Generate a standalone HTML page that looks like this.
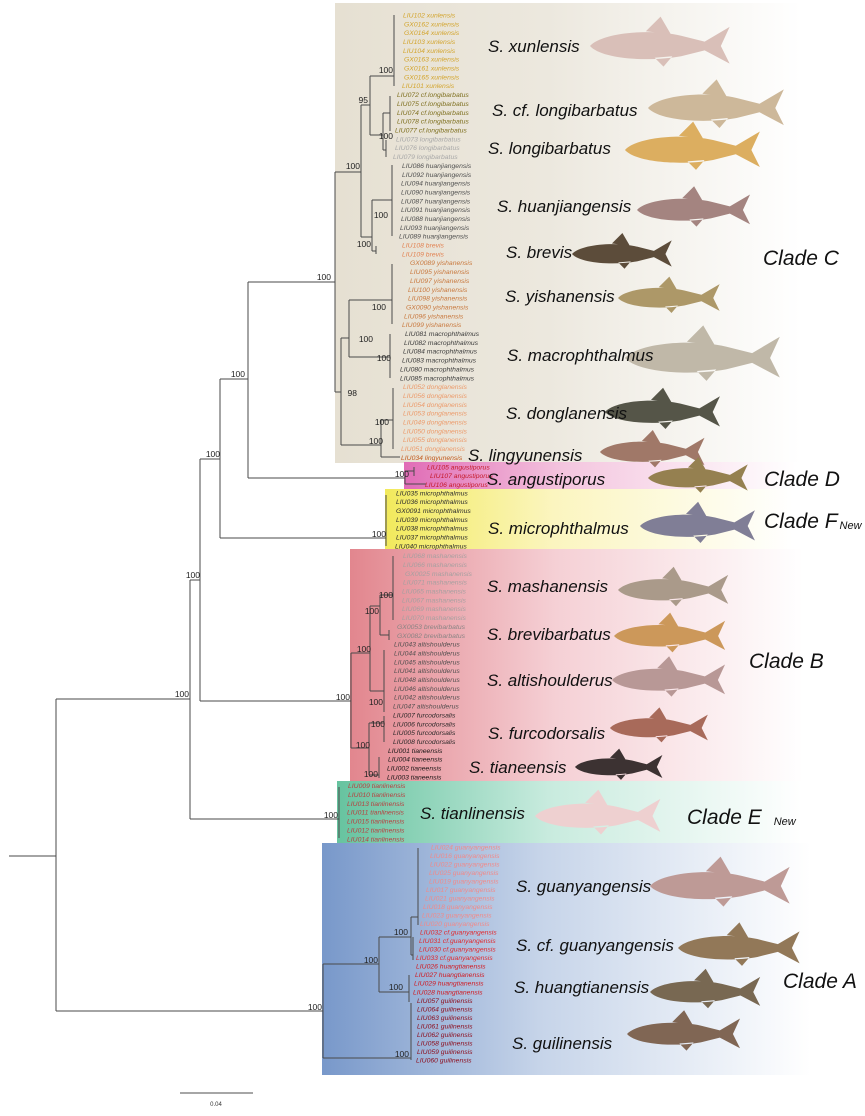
<!DOCTYPE html>
<html><head><meta charset="utf-8"><style>
html,body{margin:0;padding:0;background:#fff}
svg{display:block}
.t{font-family:"Liberation Sans",sans-serif;font-style:italic;font-size:6.8px}
.sp{font-family:"Liberation Sans",sans-serif;font-style:italic;font-size:17px;fill:#111}
.cl{font-family:"Liberation Sans",sans-serif;font-style:italic;font-size:21px;fill:#111}
.bs{font-family:"Liberation Sans",sans-serif;font-size:8.5px;fill:#222;text-anchor:end}
</style></head><body>
<svg width="865" height="1116" viewBox="0 0 865 1116" xmlns="http://www.w3.org/2000/svg">
<defs>
<linearGradient id="gC" x1="0" x2="1"><stop offset="0" stop-color="#e6e0d2"/><stop offset="0.4" stop-color="#ece8de"/><stop offset="0.88" stop-color="#fff"/></linearGradient>
<linearGradient id="gD" x1="0" x2="1"><stop offset="0" stop-color="#e06cb6"/><stop offset="0.35" stop-color="#f4c6df"/><stop offset="0.85" stop-color="#fff"/></linearGradient>
<linearGradient id="gF" x1="0" x2="1"><stop offset="0" stop-color="#f2ea5c"/><stop offset="0.35" stop-color="#fbf5bf"/><stop offset="0.85" stop-color="#fff"/></linearGradient>
<linearGradient id="gB" x1="0" x2="1"><stop offset="0" stop-color="#e2868e"/><stop offset="0.4" stop-color="#f5d0d5"/><stop offset="0.88" stop-color="#fff"/></linearGradient>
<linearGradient id="gE" x1="0" x2="1"><stop offset="0" stop-color="#66c39f"/><stop offset="0.4" stop-color="#c8ebde"/><stop offset="0.88" stop-color="#fff"/></linearGradient>
<linearGradient id="gA" x1="0" x2="1"><stop offset="0" stop-color="#7898ca"/><stop offset="0.4" stop-color="#c6d4e9"/><stop offset="0.9" stop-color="#fff"/></linearGradient>
<path id="fish" d="M0,0 C8,-9 40,-12 62,-7 L78,-3 L95,-13 L89,0 L95,12 L78,3 L62,7 C40,11 8,9 0,0 Z M38,-10 L48,-20 L55,-8 Z M44,8 L50,14 L56,7 Z"/>
</defs>
<rect x="335" y="3" width="530" height="460" fill="url(#gC)"/>
<rect x="404" y="462" width="461" height="28" fill="url(#gD)"/>
<rect x="385" y="489" width="480" height="60" fill="url(#gF)"/>
<rect x="350" y="549" width="515" height="232" fill="url(#gB)"/>
<rect x="337" y="781" width="528" height="62" fill="url(#gE)"/>
<rect x="322" y="843" width="543" height="232" fill="url(#gA)"/>

<g fill="none" stroke="#4a4a4a" stroke-width="1">
<path d="M9 856H56M56 699V1011M56 699H190M56 1011H323M190 580V819M190 819H339M190 580H200M200 459V701M200 701H351M200 459H220M220 379V538M220 538H386M220 379H248M248 282V478M248 478H405M248 282H335"/>
<path d="M335 172V392M335 172H361M361 105V237M361 105H370M370 76V135M370 76H394M394 15V86M370 135H383M383 113V150M383 113H390M390 96V131M383 150H386M386 140V157M361 237H372M372 200V251M372 200H392M392 165V236M372 251H376M376 246V254M335 392H341M341 338V445M341 338H349M349 300V357M349 300H392M392 264V324M349 357H390M390 334V378M341 445H381M381 420V457M381 420H393M393 388V449M381 457H400"/>
<path d="M405 471V484M405 471H414M414 467V476M405 484H426M386 495V546"/>
<path d="M351 653V748M351 653H370M370 606V691M370 606H380M380 595V635M380 595H393M393 556V620M380 635H389M389 630V640M370 691H384M384 650V712M351 748H369M369 723V775M369 723H384M384 716V742M369 775H379M379 757V778M339 787V838"/>
<path d="M323 964V1058M323 964H379M379 937V992M379 937H411M411 917V955M411 917H418M418 848V925M411 955H413M413 937V960M379 992H409M409 975V1002M323 1058H411M411 1003V1060"/>
<path d="M180 1093H253" stroke="#888" stroke-width="1.5"/>
</g>
<text x="216" y="1106" font-family="Liberation Sans,sans-serif" font-size="6" text-anchor="middle" fill="#333">0.04</text>

<g>
<text class="bs" x="189" y="697">100</text>
<text class="bs" x="200" y="578">100</text>
<text class="bs" x="220" y="457">100</text>
<text class="bs" x="245" y="377">100</text>
<text class="bs" x="331" y="280">100</text>
<text class="bs" x="360" y="169">100</text>
<text class="bs" x="368" y="103">95</text>
<text class="bs" x="393" y="73">100</text>
<text class="bs" x="393" y="139">100</text>
<text class="bs" x="388" y="218">100</text>
<text class="bs" x="371" y="247">100</text>
<text class="bs" x="386" y="310">100</text>
<text class="bs" x="373" y="342">100</text>
<text class="bs" x="391" y="361">100</text>
<text class="bs" x="357" y="396">98</text>
<text class="bs" x="389" y="425">100</text>
<text class="bs" x="383" y="444">100</text>
<text class="bs" x="409" y="477">100</text>
<text class="bs" x="386" y="537">100</text>
<text class="bs" x="350" y="700">100</text>
<text class="bs" x="371" y="652">100</text>
<text class="bs" x="379" y="614">100</text>
<text class="bs" x="393" y="598">100</text>
<text class="bs" x="383" y="705">100</text>
<text class="bs" x="385" y="727">100</text>
<text class="bs" x="370" y="748">100</text>
<text class="bs" x="378" y="777">100</text>
<text class="bs" x="338" y="818">100</text>
<text class="bs" x="322" y="1010">100</text>
<text class="bs" x="378" y="963">100</text>
<text class="bs" x="408" y="935">100</text>
<text class="bs" x="403" y="990">100</text>
<text class="bs" x="409" y="1057">100</text>
</g>

<g class="t">
<text fill="#d3a52e"><tspan x="403" y="17.4">LIU102 xunlensis</tspan><tspan x="404" dy="8.85">GX0162 xunlensis</tspan><tspan x="404" dy="8.85">GX0164 xunlensis</tspan><tspan x="403" dy="8.85">LIU103 xunlensis</tspan><tspan x="403" dy="8.85">LIU104 xunlensis</tspan><tspan x="404" dy="8.85">GX0163 xunlensis</tspan><tspan x="404" dy="8.85">GX0161 xunlensis</tspan><tspan x="404" dy="8.85">GX0165 xunlensis</tspan><tspan x="402" dy="8.85">LIU101 xunlensis</tspan></text>
<text fill="#7f7020"><tspan x="397" y="97.1">LIU072 cf.longibarbatus</tspan><tspan x="397" dy="8.85">LIU075 cf.longibarbatus</tspan><tspan x="397" dy="8.85">LIU074 cf.longibarbatus</tspan><tspan x="397" dy="8.85">LIU078 cf.longibarbatus</tspan><tspan x="395" dy="8.85">LIU077 cf.longibarbatus</tspan></text>
<text fill="#a8a8a8"><tspan x="396" y="141.3">LIU073 longibarbatus</tspan><tspan x="395" dy="8.85">LIU076 longibarbatus</tspan><tspan x="393" dy="8.85">LIU079 longibarbatus</tspan></text>
<text fill="#505050"><tspan x="402" y="167.9">LIU086 huanjiangensis</tspan><tspan x="402" dy="8.85">LIU092 huanjiangensis</tspan><tspan x="401" dy="8.85">LIU094 huanjiangensis</tspan><tspan x="401" dy="8.85">LIU090 huanjiangensis</tspan><tspan x="401" dy="8.85">LIU087 huanjiangensis</tspan><tspan x="401" dy="8.85">LIU091 huanjiangensis</tspan><tspan x="401" dy="8.85">LIU088 huanjiangensis</tspan><tspan x="400" dy="8.85">LIU093 huanjiangensis</tspan><tspan x="399" dy="8.85">LIU089 huanjiangensis</tspan></text>
<text fill="#e28252"><tspan x="402" y="247.5">LIU108 brevis</tspan><tspan x="402" dy="8.85">LIU109 brevis</tspan></text>
<text fill="#c97a40"><tspan x="410" y="265.2">GX0089 yishanensis</tspan><tspan x="410" dy="8.85">LIU095 yishanensis</tspan><tspan x="410" dy="8.85">LIU097 yishanensis</tspan><tspan x="408" dy="8.85">LIU100 yishanensis</tspan><tspan x="408" dy="8.85">LIU098 yishanensis</tspan><tspan x="406" dy="8.85">GX0090 yishanensis</tspan><tspan x="404" dy="8.85">LIU096 yishanensis</tspan><tspan x="402" dy="8.85">LIU099 yishanensis</tspan></text>
<text fill="#3c3c3c"><tspan x="405" y="336">LIU081 macrophthalmus</tspan><tspan x="404" dy="8.85">LIU082 macrophthalmus</tspan><tspan x="403" dy="8.85">LIU084 macrophthalmus</tspan><tspan x="402" dy="8.85">LIU083 macrophthalmus</tspan><tspan x="400" dy="8.85">LIU080 macrophthalmus</tspan><tspan x="400" dy="8.85">LIU085 macrophthalmus</tspan></text>
<text fill="#ec9a6a"><tspan x="403" y="389.1">LIU052 donglanensis</tspan><tspan x="403" dy="8.85">LIU056 donglanensis</tspan><tspan x="403" dy="8.85">LIU054 donglanensis</tspan><tspan x="403" dy="8.85">LIU053 donglanensis</tspan><tspan x="403" dy="8.85">LIU049 donglanensis</tspan><tspan x="403" dy="8.85">LIU050 donglanensis</tspan><tspan x="403" dy="8.85">LIU055 donglanensis</tspan><tspan x="401" dy="8.85">LIU051 donglanensis</tspan></text>
<text fill="#c25a1e"><tspan x="401" y="460">LIU034 lingyunensis</tspan></text>
<text fill="#c41a2a"><tspan x="427" y="469.4">LIU105 angustiporus</tspan><tspan x="430" dy="8.75">LIU107 angustiporus</tspan><tspan x="425" dy="8.75">LIU106 angustiporus</tspan></text>
<text fill="#2c2c2c"><tspan x="396" y="495.4">LIU035 microphthalmus</tspan><tspan x="396" dy="8.83">LIU036 microphthalmus</tspan><tspan x="396" dy="8.83">GX0091 microphthalmus</tspan><tspan x="396" dy="8.83">LIU039 microphthalmus</tspan><tspan x="396" dy="8.83">LIU038 microphthalmus</tspan><tspan x="396" dy="8.83">LIU037 microphthalmus</tspan><tspan x="395" dy="8.83">LIU040 microphthalmus</tspan></text>
<text fill="#a6a0a0"><tspan x="403" y="558.1">LIU068 mashanensis</tspan><tspan x="403" dy="8.85">LIU066 mashanensis</tspan><tspan x="405" dy="8.85">GX0025 mashanensis</tspan><tspan x="403" dy="8.85">LIU071 mashanensis</tspan><tspan x="402" dy="8.85">LIU065 mashanensis</tspan><tspan x="402" dy="8.85">LIU067 mashanensis</tspan><tspan x="402" dy="8.85">LIU069 mashanensis</tspan><tspan x="402" dy="8.85">LIU070 mashanensis</tspan></text>
<text fill="#8a8484"><tspan x="397" y="628.9">GX0053 brevibarbatus</tspan><tspan x="397" dy="8.85">GX0082 brevibarbatus</tspan></text>
<text fill="#545050"><tspan x="394" y="646.6">LIU043 altishoulderus</tspan><tspan x="394" dy="8.85">LIU044 altishoulderus</tspan><tspan x="394" dy="8.85">LIU045 altishoulderus</tspan><tspan x="394" dy="8.85">LIU041 altishoulderus</tspan><tspan x="394" dy="8.85">LIU048 altishoulderus</tspan><tspan x="394" dy="8.85">LIU046 altishoulderus</tspan><tspan x="394" dy="8.85">LIU042 altishoulderus</tspan><tspan x="393" dy="8.85">LIU047 altishoulderus</tspan></text>
<text fill="#2e2a2a"><tspan x="393" y="717.4">LIU007 furcodorsalis</tspan><tspan x="393" dy="8.85">LIU006 furcodorsalis</tspan><tspan x="393" dy="8.85">LIU005 furcodorsalis</tspan><tspan x="393" dy="8.85">LIU008 furcodorsalis</tspan></text>
<text fill="#1c1818"><tspan x="388" y="752.8">LIU001 tianeensis</tspan><tspan x="388" dy="8.85">LIU004 tianeensis</tspan><tspan x="387" dy="8.85">LIU002 tianeensis</tspan><tspan x="387" dy="8.85">LIU003 tianeensis</tspan></text>
<text fill="#b84040"><tspan x="348" y="788.1">LIU009 tianlinensis</tspan><tspan x="348" dy="8.88">LIU010 tianlinensis</tspan><tspan x="347" dy="8.88">LIU013 tianlinensis</tspan><tspan x="347" dy="8.88">LIU011 tianlinensis</tspan><tspan x="347" dy="8.88">LIU015 tianlinensis</tspan><tspan x="347" dy="8.88">LIU012 tianlinensis</tspan><tspan x="347" dy="8.88">LIU014 tianlinensis</tspan></text>
<text fill="#f08a8a"><tspan x="431" y="849.4">LIU024 guanyangensis</tspan><tspan x="430" dy="8.52">LIU016 guanyangensis</tspan><tspan x="430" dy="8.52">LIU022 guanyangensis</tspan><tspan x="429" dy="8.52">LIU025 guanyangensis</tspan><tspan x="429" dy="8.52">LIU019 guanyangensis</tspan><tspan x="426" dy="8.52">LIU017 guanyangensis</tspan><tspan x="425" dy="8.52">LIU021 guanyangensis</tspan><tspan x="423" dy="8.52">LIU018 guanyangensis</tspan><tspan x="422" dy="8.52">LIU023 guanyangensis</tspan><tspan x="420" dy="8.52">LIU020 guanyangensis</tspan></text>
<text fill="#e02a30"><tspan x="420" y="934.6">LIU032 cf.guanyangensis</tspan><tspan x="419" dy="8.52">LIU031 cf.guanyangensis</tspan><tspan x="419" dy="8.52">LIU030 cf.guanyangensis</tspan><tspan x="416" dy="8.52">LIU033 cf.guanyangensis</tspan></text>
<text fill="#d01a22"><tspan x="416" y="968.7">LIU026 huangtianensis</tspan><tspan x="415" dy="8.52">LIU027 huangtianensis</tspan><tspan x="414" dy="8.52">LIU029 huangtianensis</tspan><tspan x="413" dy="8.52">LIU028 huangtianensis</tspan></text>
<text fill="#8c0c1c"><tspan x="417" y="1002.8">LIU057 guilinensis</tspan><tspan x="417" dy="8.52">LIU064 guilinensis</tspan><tspan x="417" dy="8.52">LIU063 guilinensis</tspan><tspan x="417" dy="8.52">LIU061 guilinensis</tspan><tspan x="417" dy="8.52">LIU062 guilinensis</tspan><tspan x="417" dy="8.52">LIU058 guilinensis</tspan><tspan x="417" dy="8.52">LIU059 guilinensis</tspan><tspan x="416" dy="8.52">LIU060 guilinensis</tspan></text>
</g>

<g>
<use href="#fish" transform="translate(590,46) scale(1.47)" fill="#d9bfb8"/>
<use href="#fish" transform="translate(648,108) scale(1.43)" fill="#cdb89a"/>
<use href="#fish" transform="translate(625,150) scale(1.42)" fill="#dcae60"/>
<use href="#fish" transform="translate(637,210) scale(1.19)" fill="#a48480"/>
<use href="#fish" transform="translate(572,254) scale(1.05)" fill="#5c4c3a"/>
<use href="#fish" transform="translate(618,298) scale(1.07)" fill="#ad9868"/>
<use href="#fish" transform="translate(625,358) scale(1.63)" fill="#c0b8a8"/>
<use href="#fish" transform="translate(605,412) scale(1.21)" fill="#555548"/>
<use href="#fish" transform="translate(600,452) scale(1.1)" fill="#a07868"/>
<use href="#fish" transform="translate(648,478) scale(1.05)" fill="#958050"/>
<use href="#fish" transform="translate(640,526) scale(1.21)" fill="#807e96"/>
<use href="#fish" transform="translate(618,590) scale(1.16)" fill="#aa9a8a"/>
<use href="#fish" transform="translate(614,636) scale(1.17)" fill="#cc985a"/>
<use href="#fish" transform="translate(612,680) scale(1.19)" fill="#b89896"/>
<use href="#fish" transform="translate(610,728) scale(1.03)" fill="#a86a5a"/>
<use href="#fish" transform="translate(575,767) scale(0.92)" fill="#3c3232"/>
<use href="#fish" transform="translate(535,816) scale(1.32)" fill="#eed0d0"/>
<use href="#fish" transform="translate(650,886) scale(1.47)" fill="#be9a96"/>
<use href="#fish" transform="translate(678,948) scale(1.28)" fill="#927858"/>
<use href="#fish" transform="translate(650,992) scale(1.16)" fill="#786852"/>
<use href="#fish" transform="translate(627,1034) scale(1.19)" fill="#806654"/>
</g>

<g>
<text class="sp" x="488" y="52">S. xunlensis</text>
<text class="sp" x="492" y="116">S. cf. longibarbatus</text>
<text class="sp" x="488" y="154">S. longibarbatus</text>
<text class="sp" x="497" y="212">S. huanjiangensis</text>
<text class="sp" x="506" y="258">S. brevis</text>
<text class="sp" x="505" y="302">S. yishanensis</text>
<text class="sp" x="507" y="361">S. macrophthalmus</text>
<text class="sp" x="506" y="419">S. donglanensis</text>
<text class="sp" x="468" y="461">S. lingyunensis</text>
<text class="sp" x="487" y="485">S. angustiporus</text>
<text class="sp" x="488" y="534">S. microphthalmus</text>
<text class="sp" x="487" y="592">S. mashanensis</text>
<text class="sp" x="487" y="640">S. brevibarbatus</text>
<text class="sp" x="487" y="686">S. altishoulderus</text>
<text class="sp" x="488" y="739">S. furcodorsalis</text>
<text class="sp" x="469" y="773">S. tianeensis</text>
<text class="sp" x="420" y="819">S. tianlinensis</text>
<text class="sp" x="516" y="892">S. guanyangensis</text>
<text class="sp" x="516" y="951">S. cf. guanyangensis</text>
<text class="sp" x="514" y="993">S. huangtianensis</text>
<text class="sp" x="512" y="1049">S. guilinensis</text>
</g>
<g>
<text class="cl" x="763" y="265">Clade C</text>
<text class="cl" x="764" y="486">Clade D</text>
<text class="cl" x="764" y="528">Clade F<tspan font-size="11" dx="2" dy="1">New</tspan></text>
<text class="cl" x="749" y="668">Clade B</text>
<text class="cl" x="687" y="824">Clade E<tspan font-size="11" dx="12" dy="1">New</tspan></text>
<text class="cl" x="783" y="988">Clade A</text>
</g>
</svg>
</body></html>
